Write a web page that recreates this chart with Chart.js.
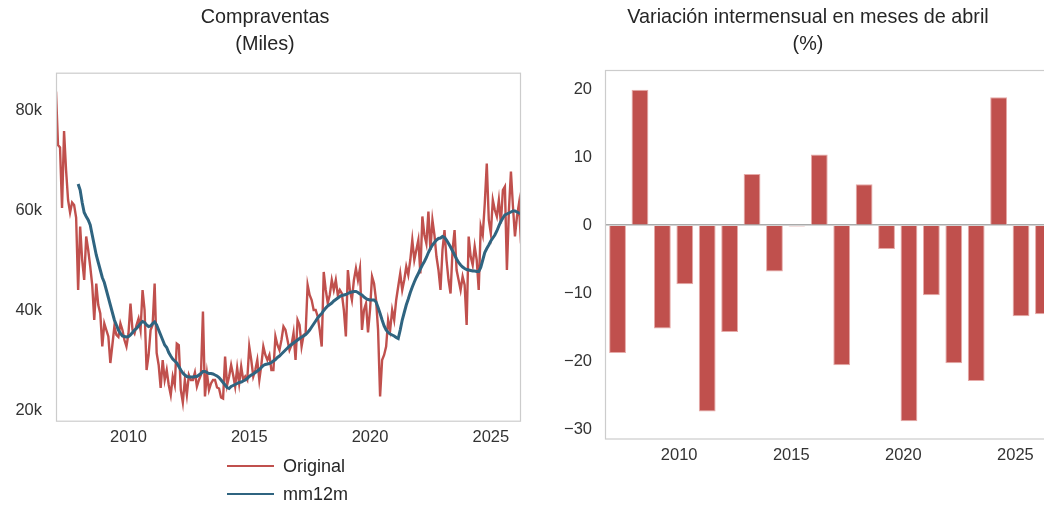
<!DOCTYPE html>
<html lang="es">
<head>
<meta charset="utf-8">
<title>Compraventas</title>
<script src="https://cdn.jsdelivr.net/npm/chart.js@4.4.1/dist/chart.umd.min.js"></script>
<style>
  html, body { margin: 0; padding: 0; background: #fff; overflow: hidden; }
  body { width: 1044px; height: 506px; position: relative; font-family: "Liberation Sans", Arial, sans-serif; }
  canvas { position: absolute; top: 0; }
  #izq { left: 0; }
  #der { left: 560px; }
  #leyenda { position: absolute; left: 227px; top: 452px; font-size: 18px; color: #262626; }
  #leyenda div { height: 28px; display: flex; align-items: center; }
  #leyenda .muestra { display: inline-block; width: 47px; margin-right: 9px; }
</style>
</head>
<body>
<canvas id="izq" width="540" height="470"></canvas>
<canvas id="der" width="496" height="470"></canvas>
<div id="leyenda"></div>

<script>
// Serie mensual desde enero de 2007 (miles de compraventas)
const anioInicial = 2007;
const compraventas = [
  83.7, 73, 72.5, 60.4, 75.8, 68, 62, 59.5, 61.5, 61, 58.5, 44,          // 2007
  56.7, 50, 46, 54.7, 52, 48.7, 45, 38, 45.3, 41, 39.3, 32.7,            // 2008
  37.3, 36, 34.7, 29.4, 33, 36.7, 35, 34.6, 37.3, 36, 34, 32.7,          // 2009
  35.3, 41.3, 36, 35.3, 37, 38.3, 36, 44, 40, 28, 31, 36,                // 2010
  37, 45.3, 31.4, 29, 24.4, 30, 26, 28, 25, 23, 26.7, 25,                // 2011
  33.3, 33, 24, 21.5, 26, 23, 27, 26, 26, 27.5, 24.7, 26,                // 2012
  27, 39.7, 22.7, 27.3, 24, 25.3, 26, 26, 24.5, 24.3, 22.5, 22.3,        // 2013
  30.7, 25, 26.7, 29, 27, 24.7, 28.4, 25.3, 28.7, 26, 26.7, 26,          // 2014
  32.7, 30, 26.7, 28, 30, 26, 29, 32.7, 31, 30, 31, 28,                  // 2015
  28, 34.7, 33, 32, 34, 36.7, 36, 34, 32, 33, 35.4, 30,                  // 2016
  38, 37, 32.7, 35, 35.3, 45, 43, 42, 40, 40, 38.7, 36,                  // 2017
  32.7, 47.6, 44, 41.4, 43, 46, 44, 46, 43, 44, 43.3, 40,                // 2018
  34.7, 48, 44, 42, 46, 48.3, 46, 48.3, 36, 40, 41.3, 35.5,              // 2019
  40, 46.7, 45.3, 42, 36, 22.7, 30, 31, 32.7, 38, 36, 40,                // 2020
  38, 42, 44.7, 47.3, 44, 46, 48.7, 47, 50, 54, 50, 52,                  // 2021
  54, 47.3, 58.7, 55, 53.3, 59.7, 52, 58, 55, 50.7, 48, 44,              // 2022
  52, 56, 50, 46, 43.3, 52, 56, 48, 46, 44, 46.7, 45,                    // 2023
  37, 54.7, 50.7, 49, 52.7, 50, 44, 56.7, 55, 61.3, 69.3, 58,            // 2024
  55.3, 62, 60, 58.7, 62, 57.3, 64, 64.7, 48, 60, 67.7, 60.7,            // 2025
  54.7, 58.7, 61.3, 53.3                                                 // 2026
];

// Media móvil de 12 meses (empieza en diciembre de 2007)
const mm12m = [
  null, null, null, null, null, null, null, null, null, null, null, 65.2, // 2007
  64, 61.5, 59.5, 58.7, 58, 57, 55, 53, 51, 49.5, 48, 46.5,               // 2008
  45.5, 44, 42.5, 41, 39.5, 38, 37, 36, 35.3, 34.8, 34.7, 34.6,           // 2009
  34.7, 35, 35.5, 36, 36.3, 36.8, 37.3, 37.7, 37.5, 37, 36.7, 36.8,       // 2010
  37.3, 37.6, 37, 36, 35, 34, 33, 32.5, 31.5, 30.8, 30.2, 29.8,           // 2011
  29.4, 28.7, 28, 27.4, 27, 26.7, 26.6, 26.6, 26.6, 26.7, 26.7, 27,       // 2012
  27.3, 27.7, 27.7, 27.5, 27.3, 27.3, 27.2, 27, 26.8, 26.5, 26, 25.5,     // 2013
  25, 24.5, 24.3, 24.7, 24.9, 25.1, 25.3, 25.5, 25.6, 25.8, 26, 26.3,     // 2014
  26.7, 27, 27.2, 27.5, 27.8, 28.1, 28.5, 28.9, 29.1, 29.2, 29.3, 29.5,   // 2015
  29.8, 30.1, 30.5, 30.8, 31.2, 31.6, 32, 32.4, 32.8, 33.1, 33.4, 33.7,   // 2016
  34, 34.3, 34.6, 34.8, 35.1, 35.5, 36, 36.6, 37.2, 37.8, 38.4, 38.9,     // 2017
  39.3, 39.9, 40.4, 40.8, 41.1, 41.4, 41.8, 42.1, 42.4, 42.7, 42.9, 43,   // 2018
  43.1, 43.3, 43.5, 43.6, 43.7, 43.7, 43.5, 43.2, 43, 42.6, 42.3, 42.1,   // 2019
  42, 42, 42, 41.6, 40.5, 39.3, 38, 36.8, 36, 35.5, 35.2, 35,             // 2020
  34.8, 34.5, 34.3, 36, 38, 39.5, 41, 42.2, 43.5, 44.6, 45.6, 46.5,       // 2021
  47.3, 48.2, 49, 49.7, 50.5, 51.5, 52.3, 53, 53.5, 54, 54.3, 54.4,       // 2022
  54.7, 54.5, 54, 53.3, 52.6, 51.8, 51, 50.2, 49.5, 49, 48.6, 48.3,       // 2023
  48.1, 48, 47.9, 47.8, 47.8, 47.7, 47.7, 48.5, 50, 51.5, 52.3, 53,       // 2024
  53.8, 54.4, 55, 55.8, 56.8, 57.7, 58.4, 59, 59.2, 59.4, 59.6, 59.8,     // 2025
  59.8, 59.6, 59.4, 59.2                                                  // 2026
];

// Variación intermensual de abril (%)
const aniosAbril = [2007, 2008, 2009, 2010, 2011, 2012, 2013, 2014, 2015, 2016,
                    2017, 2018, 2019, 2020, 2021, 2022, 2023, 2024, 2025, 2026];
const variacionAbril = [-18.8, 19.9, -15.2, -8.7, -27.4, -15.7, 7.5, -6.8, -0.2, 10.4,
                        -20.6, 6.0, -3.5, -28.8, -10.3, -20.3, -22.9, 18.8, -13.4, -13.1];

const ticksAnios = [2010, 2015, 2020, 2025];
const ticksMiles = [20, 40, 60, 80];
const ticksPct = [-30, -20, -10, 0, 10, 20];

const rojo = '#c0504d';
const azul = '#2f6480';
const fuente = '"Liberation Sans", Arial, sans-serif';

Chart.defaults.font.family = fuente;
Chart.defaults.color = '#333333';

// fecha decimal de un mes (0 = enero 2007)
const fecha = i => anioInicial + i / 12;
const menos = v => (v < 0 ? '\u2212' + Math.abs(v) : String(v));

// Marco gris alrededor del área de dibujo
const marco = {
    id: 'marco',
    afterDatasetsDraw(chart, args, opts) {
        const { ctx, chartArea: a } = chart;
        ctx.save();
        ctx.strokeStyle = opts.color || '#cccccc';
        ctx.lineWidth = 1.2;
        ctx.strokeRect(a.left + 0.5, a.top + 0.5, a.right - a.left - 1, a.bottom - a.top - 1);
        ctx.restore();
    }
};

const tituloBase = {
    display: true,
    color: '#262626',
    font: { size: 19.8, weight: 'normal', lineHeight: '27px' }
};

const izq = new Chart(document.getElementById('izq'), {
    type: 'line',
    data: {
        datasets: [
            {
                label: 'Original',
                data: compraventas.map((v, i) => ({ x: fecha(i), y: v })),
                borderColor: rojo,
                borderWidth: 2.4,
                pointRadius: 0,
                order: 2
            },
            {
                label: 'mm12m',
                data: mm12m.map((v, i) => ({ x: fecha(i), y: v })),
                borderColor: azul,
                borderWidth: 3,
                pointRadius: 0,
                order: 1
            }
        ]
    },
    options: {
        responsive: false,
        animation: false,
        layout: { padding: { left: 9, right: 19, top: 0, bottom: 0 } },
        plugins: {
            legend: { display: false },
            tooltip: { enabled: false },
            title: { ...tituloBase, text: ['Compraventas', '(Miles)'], padding: { top: 4.5, bottom: 14.2 } },
            marco: { color: '#cccccc' }
        },
        scales: {
            x: {
                type: 'linear',
                min: fecha(0),
                max: fecha(compraventas.length - 1),
                grid: { display: false, drawTicks: false },
                border: { display: false },
                afterBuildTicks: s => { s.ticks = ticksAnios.map(v => ({ value: v })); },
                afterFit: s => { s.height = 48.3; },
                ticks: { padding: 6, font: { size: 16.5 }, callback: v => String(v) }
            },
            y: {
                min: 17.66,
                max: 87.46,
                grid: { display: false, drawTicks: false },
                border: { display: false },
                afterBuildTicks: s => { s.ticks = ticksMiles.map(v => ({ value: v })); },
                afterFit: s => { s.width = 47; },
                ticks: { padding: 14, font: { size: 16.5 }, callback: v => v + 'k' }
            }
        }
    },
    plugins: [marco]
});

new Chart(document.getElementById('der'), {
    type: 'bar',
    data: {
        datasets: [{
            label: 'Variación intermensual',
            data: aniosAbril.map((a, i) => ({ x: a + 3 / 12, y: variacionAbril[i] })),
            backgroundColor: rojo,
            borderColor: '#e6aaa8',
            borderWidth: 1,
            barPercentage: 0.75,
            categoryPercentage: 1
        }]
    },
    options: {
        responsive: false,
        animation: false,
        layout: { padding: 0 },
        plugins: {
            legend: { display: false },
            tooltip: { enabled: false },
            title: { ...tituloBase, text: ['Variación intermensual en meses de abril', '(%)'], padding: { top: 4.5, bottom: 11.5 } },
            marco: { color: '#cccccc' }
        },
        scales: {
            x: {
                type: 'linear',
                offset: false,
                min: 2006.69,
                max: 2026.81,
                grid: { display: false, offset: false, drawTicks: false },
                border: { display: false },
                afterBuildTicks: s => { s.ticks = ticksAnios.map(v => ({ value: v })); },
                afterFit: s => { s.height = 30.5; },
                ticks: { padding: 6, font: { size: 16.5 }, callback: v => String(v) }
            },
            y: {
                min: -31.5,
                max: 22.8,
                border: { display: false },
                grid: {
                    color: c => (c.tick && c.tick.value === 0 ? '#aaaaaa' : 'rgba(0,0,0,0)'),
                    lineWidth: 1.5,
                    drawTicks: false
                },
                afterBuildTicks: s => { s.ticks = ticksPct.map(v => ({ value: v })); },
                afterFit: s => { s.width = 45; },
                ticks: { padding: 13, font: { size: 16.5 }, callback: v => menos(v) }
            }
        }
    },
    plugins: [marco]
});

// Leyenda vertical bajo el gráfico de la izquierda
const leyenda = document.getElementById('leyenda');
izq.data.datasets.forEach(ds => {
    const fila = document.createElement('div');
    const muestra = document.createElement('span');
    muestra.className = 'muestra';
    muestra.style.borderTop = Math.min(ds.borderWidth, 2.4) + 'px solid ' + ds.borderColor;
    fila.appendChild(muestra);
    fila.appendChild(document.createTextNode(ds.label));
    leyenda.appendChild(fila);
});
</script>
</body>
</html>
